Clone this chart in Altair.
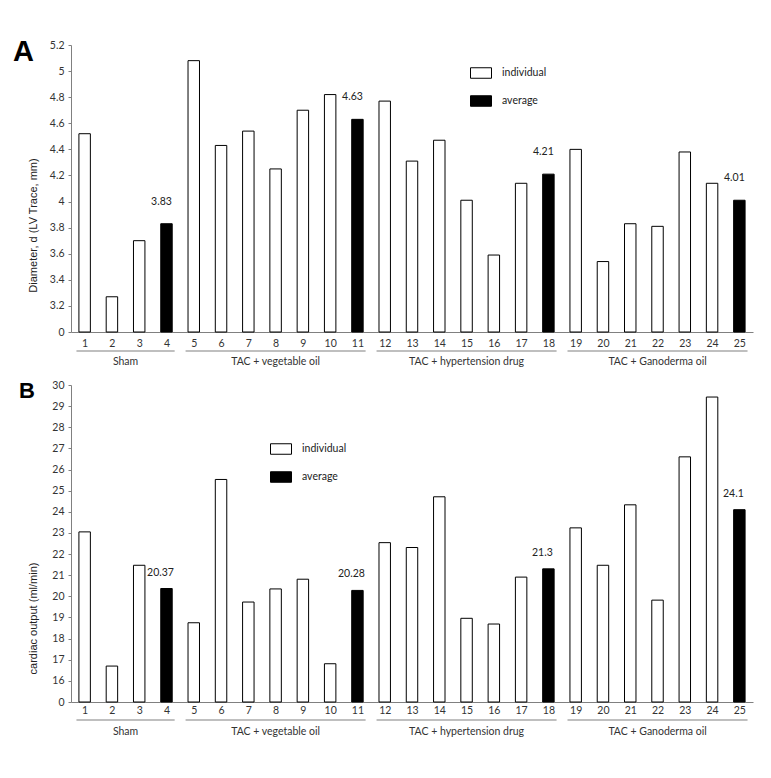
import altair as alt
import pandas as pd

# ---------------- data ----------------
samples = list(range(1, 26))
kinds = ["individual", "individual", "individual", "average",
         "individual", "individual", "individual", "individual", "individual", "individual", "average",
         "individual", "individual", "individual", "individual", "individual", "individual", "average",
         "individual", "individual", "individual", "individual", "individual", "individual", "average"]

diameter = [4.52, 3.27, 3.70, 3.83,
            5.08, 4.43, 4.54, 4.25, 4.70, 4.82, 4.63,
            4.77, 4.31, 4.47, 4.01, 3.59, 4.14, 4.21,
            4.40, 3.54, 3.83, 3.81, 4.38, 4.14, 4.01]
diameter_avg_labels = ["3.83", "4.63", "4.21", "4.01"]

cardiac = [23.05, 16.70, 21.47, 20.37,
           18.75, 25.53, 19.73, 20.35, 20.81, 16.81, 20.28,
           22.54, 22.31, 24.71, 18.96, 18.69, 20.91, 21.30,
           23.24, 21.47, 24.33, 19.82, 26.60, 29.43, 24.10]
cardiac_avg_labels = ["20.37", "20.28", "21.3", "24.1"]

group_names = ["Sham", "TAC + vegetable oil", "TAC + hypertension drug", "TAC + Ganoderma oil"]
group_first = [1, 5, 12, 19]
group_last = [4, 11, 18, 25]

diam_ticks = [3.0, 3.2, 3.4, 3.6, 3.8, 4.0, 4.2, 4.4, 4.6, 4.8, 5.0, 5.2]
card_ticks = [15, 16, 17, 18, 19, 20, 21, 22, 23, 24, 25, 26, 27, 28, 29, 30]

LABEL_FONT = "Lato"
TITLE_FONT = "Liberation Sans"
W = 682
FS = 10.5


def panel(values, avg_labels, ticks, height, ytitle, title_y, letter, letter_size,
          letter_x, letter_y, leg_x, leg_y, txt_dx, txt_dy, xlab_pad, line_y, grp_y):
    floor, top = ticks[0], ticks[-1]
    df = pd.DataFrame({"sample": samples, "kind": kinds, "value": values})
    df["x0"] = df["sample"] - 0.21
    df["x1"] = df["sample"] + 0.21
    avg = df[df["kind"] == "average"].copy()
    avg["label"] = avg_labels

    grp = pd.DataFrame({"name": group_names, "first": group_first, "last": group_last})
    grp["g0"] = grp["first"] - 0.3
    grp["g1"] = grp["last"] + 0.3
    grp["mid"] = (grp["first"] + grp["last"]) / 2

    xscale = alt.Scale(domain=[0.5, 25.5], nice=False, zero=False)
    yscale = alt.Scale(domain=[floor, top], nice=False, zero=False)

    xaxis = alt.Axis(values=samples, ticks=False, grid=False, title=None,
                     labelFont=LABEL_FONT, labelFontSize=FS, labelColor="#333",
                     labelPadding=xlab_pad, domainColor="#808080", format="d",
                     labelFlush=False, labelOverlap=False, labelBound=False)
    yaxis = alt.Axis(values=ticks, grid=False, tickSize=3, tickColor="#808080",
                     domainColor="#808080", labelOverlap=False, labelFlush=False,
                     labelBound=False,
                     labelExpr=f"datum.value <= {floor} + 0.0001 ? '0' : toString(round(datum.value*10)/10)",
                     labelFont=LABEL_FONT, labelFontSize=FS, labelColor="#333",
                     labelPadding=4,
                     title=ytitle, titleFont=TITLE_FONT, titleFontSize=11,
                     titleFontWeight="normal", titleColor="#222",
                     titleX=-38, titleY=title_y, titleAngle=-90,
                     titleAlign="center", titleBaseline="middle")

    bars = alt.Chart(df).mark_bar(stroke="black", strokeWidth=1).encode(
        x=alt.X("x0:Q", scale=xscale, axis=xaxis),
        x2="x1:Q",
        y=alt.Y("value:Q", scale=yscale, axis=yaxis),
        y2=alt.datum(floor),
        fill=alt.Fill("kind:N",
                      scale=alt.Scale(domain=["individual", "average"], range=["white", "black"]),
                      legend=alt.Legend(orient="none", legendX=leg_x, legendY=leg_y, title=None,
                                        symbolType="M-1,-0.5H1V0.5H-1Z", symbolSize=441,
                                        symbolStrokeColor="black", symbolStrokeWidth=1,
                                        labelFont=LABEL_FONT, labelFontSize=FS, labelColor="#222",
                                        labelOffset=10, rowPadding=9)),
    )

    txt = alt.Chart(avg).mark_text(font=LABEL_FONT, fontSize=FS, color="#222",
                                   dx=txt_dx, dy=txt_dy, baseline="middle").encode(
        x=alt.X("sample:Q", scale=xscale, axis=xaxis),
        y=alt.Y("value:Q", scale=yscale, axis=yaxis),
        text="label:N",
    )

    lines = alt.Chart(grp).mark_rule(color="#808080", strokeWidth=1.2).encode(
        x=alt.X("g0:Q", scale=xscale, axis=xaxis), x2="g1:Q", y=alt.value(line_y),
    )
    glabels = alt.Chart(grp).mark_text(font=LABEL_FONT, fontSize=FS, color="#333",
                                       baseline="middle").encode(
        x=alt.X("mid:Q", scale=xscale, axis=xaxis), y=alt.value(grp_y), text="name:N",
    )
    let = alt.Chart(pd.DataFrame({"t": [letter]})).mark_text(
        font=TITLE_FONT, fontSize=letter_size, fontWeight="bold", color="black",
        align="left", baseline="alphabetic").encode(
        x=alt.value(letter_x), y=alt.value(letter_y), text="t:N")

    return alt.layer(bars, txt, lines, glabels, let).properties(width=W, height=height)


panelA = panel(diameter, diameter_avg_labels, diam_ticks, 287,
               "Diameter, d (LV Trace, mm)", 180, "A", 29, -58, 16,
               399, 17, -5, -22, 6, 306, 317)
panelB = panel(cardiac, cardiac_avg_labels, card_ticks, 317,
               "cardiac output (ml/min)", 233, "B", 22, -52, 13,
               199, 53, -6, -16, 3, 335, 347)

chart = alt.vconcat(panelA, panelB, spacing=12).resolve_scale(
    fill="independent").resolve_legend(fill="independent").properties(
    padding={"left": 5, "top": 30, "right": 5, "bottom": 5}
).configure_view(stroke=None).configure_axis(labelOverlap=False)

chart.save("out.html", embed_options={"renderer": "svg", "actions": False})
